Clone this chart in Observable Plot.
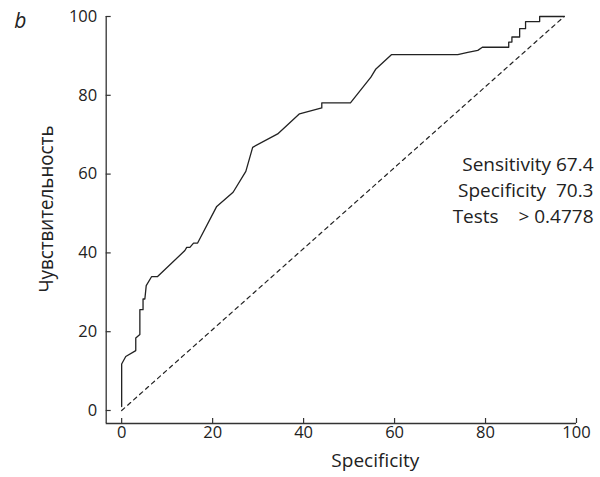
<!DOCTYPE html>
<html>
<head>
<meta charset="utf-8">
<script src="https://cdn.jsdelivr.net/npm/d3@7"></script>
<script src="https://cdn.jsdelivr.net/npm/@observablehq/plot@0.6"></script>
<style>
  html, body { margin: 0; padding: 0; background: #fff; }
  svg { display: block; }
</style>
</head>
<body>
<div id="chart"></div>
<script>
// ROC curve values
const specificity = [0, 0, 0.9, 3.1, 3.1, 4.0, 4.0, 4.7, 4.7, 5.1, 5.4, 6.6, 7.9, 13.9, 14.3, 15.0, 15.8, 16.7, 20.9, 24.5, 27.3, 28.8, 34.3, 39.1, 44.0, 44.0, 50.3, 54.8, 55.9, 59.3, 73.9, 76.1, 78.3, 79.3, 85.1, 85.1, 85.8, 85.8, 87.5, 87.5, 88.8, 88.8, 91.9, 91.9, 97.3];
const sensitivity = [1, 11.8, 13.7, 15.2, 18.4, 19.3, 25.6, 25.6, 28.3, 28.3, 31.7, 34.0, 34.0, 40.6, 41.4, 41.4, 42.5, 42.5, 51.8, 55.4, 60.7, 66.8, 70.2, 75.3, 76.8, 78.1, 78.1, 84.6, 86.7, 90.3, 90.3, 90.9, 91.4, 92.2, 92.2, 93.5, 93.5, 94.8, 94.8, 96.9, 96.9, 98.7, 98.7, 100, 100];
const diagonalX = [0, 97.3];
const diagonalY = [0, 100];
const xTicks = [0, 20, 40, 60, 80, 100];
const yTicks = [0, 20, 40, 60, 80, 100];
const xLabel = "Specificity";
const yLabel = "Чувствительность";
const panelLabel = "b";
const statsText = "Sensitivity 67.4\nSpecificity\u00a0\u00a070.3\nTests\u00a0\u00a0\u00a0\u00a0> 0.4778";

const xDomain = [-3.4, 100];
const yDomain = [-3.3, 100];

const roc = specificity.map((x, i) => ({x, y: sensitivity[i]}));
const diag = diagonalX.map((x, i) => ({x, y: diagonalY[i]}));

const W = 600, H = 477;
const mL = 105.7, mR = 24, mT = 16, mB = 54;
const innerW = W - mL - mR, innerH = H - mT - mB;
const axisColor = "#333";
const font = "'Open Sans', sans-serif";

const chart = Plot.plot({
  width: W,
  height: H,
  marginLeft: mL,
  marginRight: mR,
  marginTop: mT,
  marginBottom: mB,
  style: {fontFamily: font, background: "#fff", color: "#222"},
  x: {domain: xDomain},
  y: {domain: yDomain},
  marks: [
    Plot.axisX(xTicks, {tickSize: 0, tickPadding: 3, fontSize: 16.5, label: null, color: "#222"}),
    Plot.axisY(yTicks, {tickSize: 0, tickPadding: 9, fontSize: 16.5, label: null, color: "#222"}),
    Plot.tickX(xTicks, {x: d => d, insetTop: innerH - 5, stroke: axisColor, strokeWidth: 1.2}),
    Plot.tickY(yTicks, {y: d => d, insetRight: innerW - 5, stroke: axisColor, strokeWidth: 1.2}),
    Plot.ruleX([xDomain[0]], {y1: yDomain[0], y2: yDomain[1], stroke: axisColor, strokeWidth: 1.3}),
    Plot.ruleY([yDomain[0]], {x1: xDomain[0], x2: xDomain[1], stroke: axisColor, strokeWidth: 1.3}),
    Plot.line(diag, {x: "x", y: "y", stroke: "#222", strokeWidth: 1.2, strokeDasharray: "4,4"}),
    Plot.line(roc, {x: "x", y: "y", stroke: "#222", strokeWidth: 1.3}),
    Plot.text([statsText], {text: d => d, frameAnchor: "top-right", textAnchor: "end", lineAnchor: "middle", dx: 17, dy: 172, fontSize: 19, lineHeight: 1.37, fill: "#222"}),
    Plot.text([xLabel], {text: d => d, frameAnchor: "bottom", textAnchor: "middle", lineAnchor: "bottom", dx: 34, dy: 43, fontSize: 19, fill: "#222"}),
    Plot.text([yLabel], {text: d => d, frameAnchor: "left", textAnchor: "middle", lineAnchor: "middle", rotate: -90, dx: -59, dy: -11, fontSize: 19.5, fill: "#222"}),
    Plot.text([panelLabel], {text: d => d, frameAnchor: "top-left", textAnchor: "start", lineAnchor: "middle", dx: -92, dy: 5, fontSize: 21, fontStyle: "italic", fill: "#222"})
  ]
});
// fit the y label to the length it has in the reference
d3.select(chart).selectAll("text").filter(function() { return this.textContent === yLabel; })
  .attr("textLength", 167).attr("lengthAdjust", "spacingAndGlyphs");
document.getElementById("chart").append(chart);
</script>
</body>
</html>
